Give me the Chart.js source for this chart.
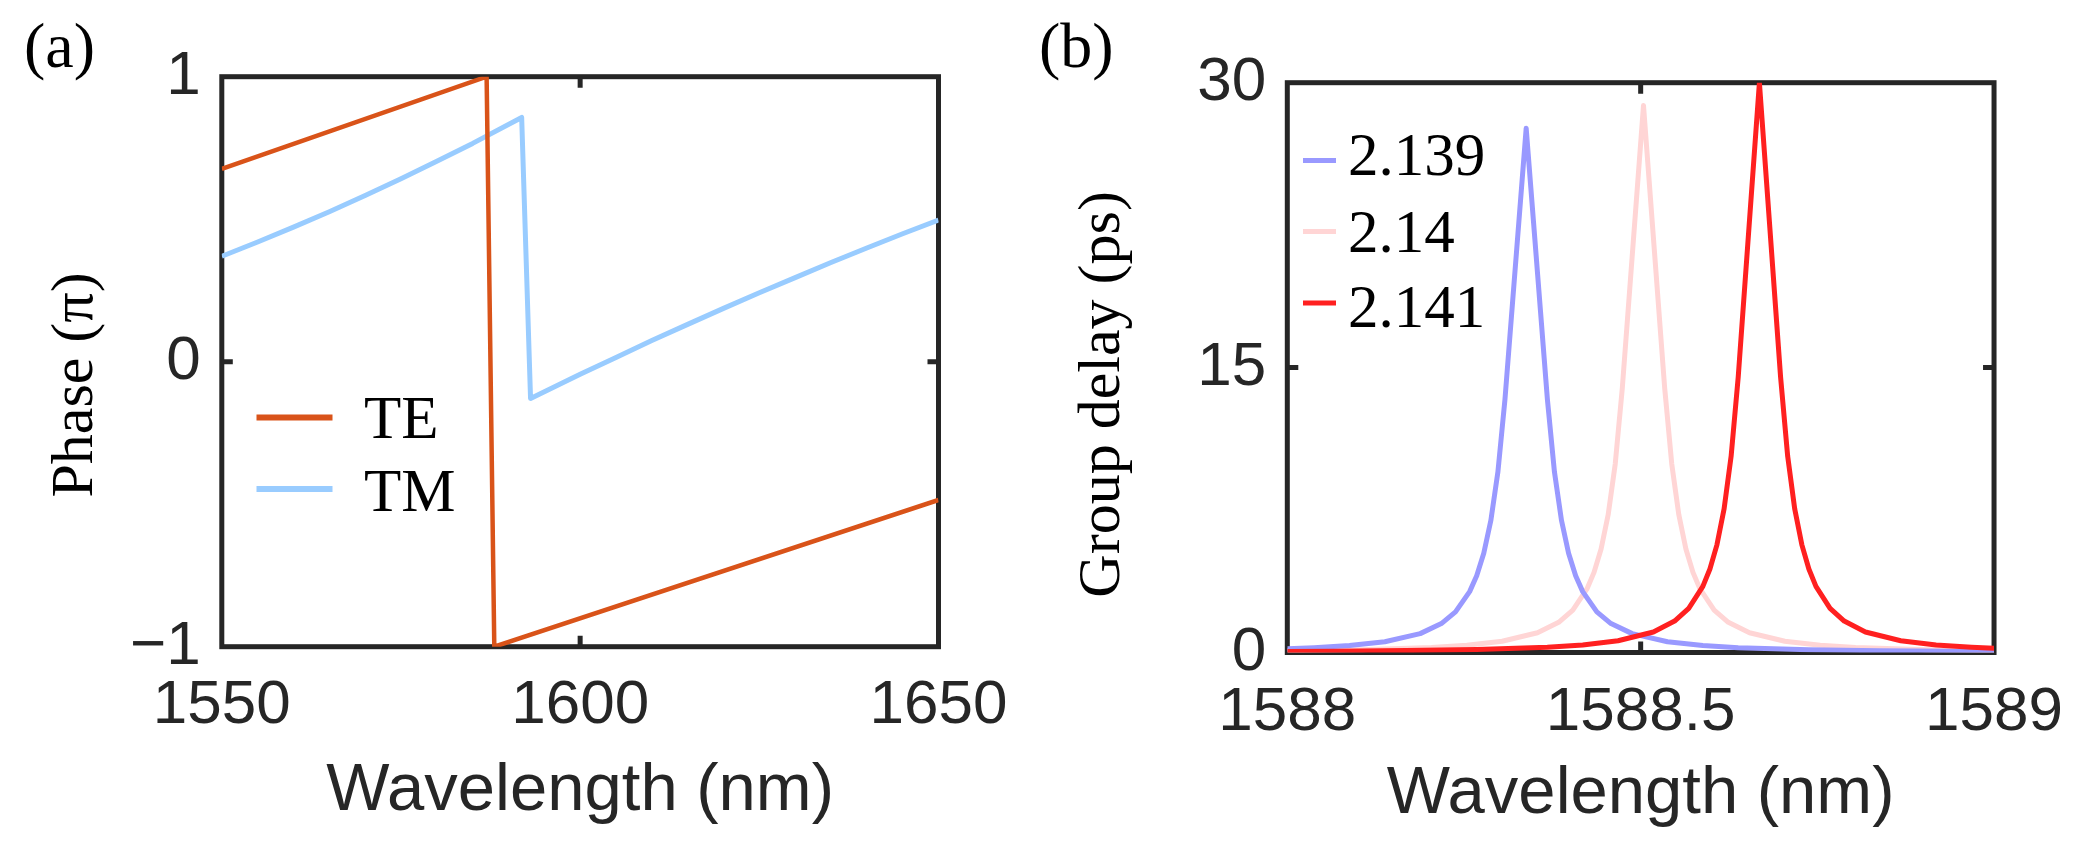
<!DOCTYPE html>
<html><head><meta charset="utf-8">
<script src="https://cdn.jsdelivr.net/npm/chart.js@4.4.1/dist/chart.umd.min.js"></script>
<style>
html,body{margin:0;padding:0;background:#fff;width:2086px;height:856px;overflow:hidden}
canvas{position:absolute;top:0}
#ca{left:0;width:1030px;height:856px}
#cb{left:1030px;width:1056px;height:856px}
</style></head><body>
<canvas id="ca" width="1030" height="856"></canvas>
<canvas id="cb" width="1056" height="856"></canvas>
<script>
// ---------- Panel (a): phase ----------
const teWavelength = [1550, 1586.95, 1588.02, 1650];
const tePhase      = [0.677, 1.0, -1.0, -0.485];
const tmWavelength = [1550, 1555, 1560, 1565, 1570, 1575, 1580, 1585, 1591.84, 1593.08, 1600, 1605, 1610, 1615, 1620, 1625, 1630, 1635, 1640, 1645, 1650];
const tmPhase      = [0.370, 0.420, 0.472, 0.526, 0.583, 0.642, 0.703, 0.766, 0.857, -0.129, -0.044, 0.015, 0.074, 0.131, 0.187, 0.242, 0.295, 0.348, 0.399, 0.449, 0.497];
const aXTicks = [1550, 1600, 1650];
const aXTickLabels = ['1550', '1600', '1650'];
const aYTicks = [-1, 0, 1];
const aYTickLabels = ['\u22121', '0', '1'];

// ---------- Panel (b): group delay ----------
const lambda2139 = [1588.000,1588.038,1588.088,1588.138,1588.188,1588.218,1588.238,1588.258,1588.268,1588.278,1588.288,1588.298,1588.308,1588.338,1588.368,1588.378,1588.388,1588.398,1588.408,1588.418,1588.438,1588.458,1588.488,1588.538,1588.588,1588.638,1588.738,1588.838,1588.938,1589.000];
const delay2139  = [0.202,0.256,0.367,0.568,0.994,1.523,2.141,3.205,4.043,5.227,6.947,9.509,13.332,27.6,13.332,9.509,6.947,5.227,4.043,3.205,2.141,1.523,0.994,0.568,0.367,0.256,0.144,0.092,0.064,0.053];
const lambda214  = [1588.000,1588.104,1588.204,1588.254,1588.304,1588.354,1588.384,1588.404,1588.424,1588.434,1588.444,1588.454,1588.464,1588.474,1588.504,1588.534,1588.544,1588.554,1588.564,1588.574,1588.584,1588.604,1588.624,1588.654,1588.704,1588.754,1588.804,1588.904,1589.000];
const delay214   = [0.095,0.151,0.267,0.382,0.593,1.038,1.589,2.234,3.345,4.219,5.454,7.250,9.922,13.912,28.8,13.912,9.922,7.250,5.454,4.219,3.345,2.234,1.589,1.038,0.593,0.382,0.267,0.151,0.098];
const lambda2141 = [1588.000,1588.068,1588.168,1588.268,1588.368,1588.418,1588.468,1588.518,1588.548,1588.568,1588.588,1588.598,1588.608,1588.618,1588.628,1588.638,1588.668,1588.698,1588.708,1588.718,1588.728,1588.738,1588.748,1588.768,1588.788,1588.818,1588.868,1588.918,1588.968,1589.000];
const delay2141  = [0.056,0.070,0.101,0.157,0.278,0.398,0.618,1.081,1.655,2.327,3.484,4.395,5.681,7.552,10.336,14.492,30.0,14.492,10.336,7.552,5.681,4.395,3.484,2.327,1.655,1.081,0.618,0.398,0.278,0.227];
const bXTicks = [1588, 1588.5, 1589];
const bXTickLabels = ['1588', '1588.5', '1589'];
const bYTicks = [0, 15, 30];
const bYTickLabels = ['0', '15', '30'];

const AXIS = '#262626';
const SERIF = '"Liberation Serif", "Times New Roman", serif';
const pts = (xs, ys) => xs.map((x, i) => ({x: x, y: ys[i]}));

function framePlugin(width, tickLen) {
  return {
    id: 'frame',
    beforeDatasetsDraw(chart) {
      const {ctx, chartArea: a} = chart;
      const x = chart.scales.x, y = chart.scales.y;
      ctx.save();
      ctx.strokeStyle = AXIS; ctx.lineWidth = width; ctx.lineJoin = 'miter'; ctx.lineCap = 'butt';
      ctx.strokeRect(a.left, a.top, a.right - a.left, a.bottom - a.top);
      ctx.beginPath();
      x.ticks.forEach(t => {
        if (t.value <= x.min || t.value >= x.max) return;
        const p = x.getPixelForValue(t.value);
        ctx.moveTo(p, a.bottom); ctx.lineTo(p, a.bottom - tickLen);
        ctx.moveTo(p, a.top); ctx.lineTo(p, a.top + tickLen);
      });
      y.ticks.forEach(t => {
        if (t.value <= y.min || t.value >= y.max) return;
        const p = y.getPixelForValue(t.value);
        ctx.moveTo(a.left, p); ctx.lineTo(a.left + tickLen, p);
        ctx.moveTo(a.right, p); ctx.lineTo(a.right - tickLen, p);
      });
      ctx.stroke();
      ctx.restore();
    }
  };
}

function legendPlugin(cfg) {
  return {
    id: 'lineLegend',
    afterDatasetsDraw(chart) {
      const ctx = chart.ctx;
      ctx.save();
      chart.data.datasets.forEach((ds, i) => {
        const r = cfg.rows[i];
        ctx.strokeStyle = ds.borderColor; ctx.lineWidth = cfg.lineWidth; ctx.lineCap = 'butt';
        ctx.beginPath(); ctx.moveTo(cfg.x0, r[0]); ctx.lineTo(cfg.x1, r[0]); ctx.stroke();
        ctx.fillStyle = '#000'; ctx.font = '61px ' + SERIF; ctx.textAlign = 'left'; ctx.textBaseline = 'alphabetic';
        ctx.fillText(ds.label, cfg.textX, r[1]);
      });
      ctx.restore();
    }
  };
}

// panel label and rotated y-axis title, drawn as canvas text
function textPlugin(cfg) {
  return {
    id: 'panelText',
    afterDraw(chart) {
      const ctx = chart.ctx;
      ctx.save();
      ctx.fillStyle = '#000'; ctx.textBaseline = 'alphabetic';
      ctx.font = '64px ' + SERIF; ctx.textAlign = 'left';
      ctx.fillText(cfg.panel, cfg.panelX, cfg.panelY);
      ctx.translate(cfg.yTitleX, cfg.yTitleY);
      ctx.rotate(-Math.PI / 2);
      ctx.font = '60px ' + SERIF; ctx.textAlign = 'center';
      ctx.fillText(cfg.yTitle, 0, 0);
      ctx.restore();
    }
  };
}

function tickFromArrays(vals, labels) {
  return {
    afterBuildTicks: s => { s.ticks = vals.map(v => ({value: v})); },
    callback: v => { const i = vals.indexOf(v); return i >= 0 ? labels[i] : ''; }
  };
}

function makeChart(canvas, o) {
  const xt = tickFromArrays(o.xTicks, o.xLabels);
  const yt = tickFromArrays(o.yTicks, o.yLabels);
  return new Chart(canvas, {
    type: 'line',
    data: {datasets: o.datasets},
    options: {
      responsive: false, animation: false, devicePixelRatio: 1, events: [],
      layout: {padding: {left: 0, top: o.area.top, right: o.canvasW - o.area.right, bottom: 0}},
      plugins: {legend: {display: false}, tooltip: {enabled: false}, title: {display: false}},
      elements: {line: {tension: 0, borderJoinStyle: 'round', borderCapStyle: 'butt'}, point: {radius: 0}},
      scales: {
        x: {
          type: 'linear', min: o.xMin, max: o.xMax,
          afterBuildTicks: xt.afterBuildTicks,
          afterFit: s => { s.height = 856 - o.area.bottom; },
          grid: {display: false, drawTicks: false}, border: {display: false},
          ticks: {callback: xt.callback, padding: o.xTickPad, maxRotation: 0, minRotation: 0, autoSkip: false,
                  color: AXIS, font: {family: 'Liberation Sans', size: 62}},
          title: {display: true, text: 'Wavelength (nm)', color: AXIS,
                  font: {family: 'Liberation Sans', size: 67}, padding: {top: 0, bottom: o.xTitlePad}}
        },
        y: {
          type: 'linear', min: o.yMin, max: o.yMax,
          afterBuildTicks: yt.afterBuildTicks,
          afterFit: s => { s.width = o.area.left; },
          grid: {display: false, drawTicks: false}, border: {display: false},
          ticks: {callback: yt.callback, padding: 21, autoSkip: false,
                  color: AXIS, font: {family: 'Liberation Sans', size: 62}},
          title: {display: false, text: o.text.yTitle}
        }
      }
    },
    plugins: [framePlugin(5, 11), legendPlugin(o.legend), textPlugin(o.text)]
  });
}

function draw() {
  makeChart(document.getElementById('ca'), {
    canvasW: 1030,
    area: {left: 221.8, top: 76.7, right: 938.5, bottom: 646.7},
    xMin: 1550, xMax: 1650, yMin: -1, yMax: 1,
    xTicks: aXTicks, xLabels: aXTickLabels, yTicks: aYTicks, yLabels: aYTickLabels,
    xTitlePad: 24.5, xTickPad: 22.5,
    datasets: [
      {label: 'TE', data: pts(teWavelength, tePhase), borderColor: '#D95319', borderWidth: 4.5, pointRadius: 0, fill: false},
      {label: 'TM', data: pts(tmWavelength, tmPhase), borderColor: '#99CCFF', borderWidth: 5, pointRadius: 0, fill: false}
    ],
    legend: {x0: 256.5, x1: 332.5, lineWidth: 6, textX: 364, rows: [[417.6, 438], [489, 511]]},
    text: {panel: '(a)', panelX: 24, panelY: 67, yTitle: 'Phase (\u03c0)', yTitleX: 92, yTitleY: 385}
  });
  makeChart(document.getElementById('cb'), {
    canvasW: 1056,
    area: {left: 257.3, top: 82.7, right: 973, bottom: 652.5},
    xMin: 1588, xMax: 1589, yMin: 0, yMax: 30,
    xTicks: bXTicks, xLabels: bXTickLabels, yTicks: bYTicks, yLabels: bYTickLabels,
    xTitlePad: 21, xTickPad: 23,
    datasets: [
      {label: '2.139', data: pts(lambda2139, delay2139), borderColor: '#9999FF', borderWidth: 5, pointRadius: 0, fill: false, order: 1},
      {label: '2.14', data: pts(lambda214, delay214), borderColor: '#FFD5D5', borderWidth: 5, pointRadius: 0, fill: false, order: 2},
      {label: '2.141', data: pts(lambda2141, delay2141), borderColor: '#FF2020', borderWidth: 5, pointRadius: 0, fill: false, order: 0}
    ],
    legend: {x0: 273, x1: 306, lineWidth: 5, textX: 318, rows: [[160.5, 175], [231.5, 251.7], [303, 327.3]]},
    text: {panel: '(b)', panelX: 9, panelY: 67, yTitle: 'Group delay (ps)', yTitleX: 88.6, yTitleY: 394.4}
  });
}

Promise.all([
  document.fonts.load('60px "Liberation Serif"'),
  document.fonts.load('62px "Liberation Sans"')
]).then(draw, draw);
</script>
</body></html>
